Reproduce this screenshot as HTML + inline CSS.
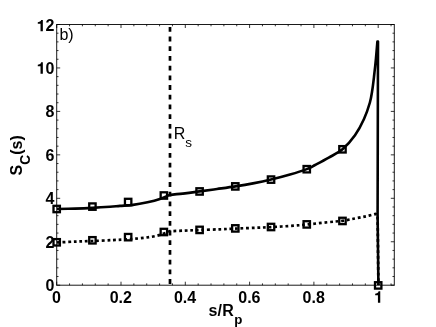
<!DOCTYPE html><html><head><meta charset="utf-8"><style>html,body{margin:0;padding:0;background:#fff;}svg{display:block;font-family:"Liberation Sans",sans-serif;will-change:transform;}</style></head><body>
<svg width="436" height="327" viewBox="0 0 436 327">
<rect width="436" height="327" fill="#fff"/>
<rect x="56.7" y="24.5" width="337.6" height="260.7" fill="none" stroke="#1a1a1a" stroke-width="1"/>
<path d="M56.70 285.2v-3.5M56.70 24.5v3.5M69.56 285.2v-1.8M69.56 24.5v1.8M82.42 285.2v-1.8M82.42 24.5v1.8M95.28 285.2v-1.8M95.28 24.5v1.8M108.14 285.2v-1.8M108.14 24.5v1.8M121.00 285.2v-3.5M121.00 24.5v3.5M133.86 285.2v-1.8M133.86 24.5v1.8M146.72 285.2v-1.8M146.72 24.5v1.8M159.58 285.2v-1.8M159.58 24.5v1.8M172.44 285.2v-1.8M172.44 24.5v1.8M185.30 285.2v-3.5M185.30 24.5v3.5M198.16 285.2v-1.8M198.16 24.5v1.8M211.02 285.2v-1.8M211.02 24.5v1.8M223.88 285.2v-1.8M223.88 24.5v1.8M236.74 285.2v-1.8M236.74 24.5v1.8M249.60 285.2v-3.5M249.60 24.5v3.5M262.46 285.2v-1.8M262.46 24.5v1.8M275.32 285.2v-1.8M275.32 24.5v1.8M288.18 285.2v-1.8M288.18 24.5v1.8M301.04 285.2v-1.8M301.04 24.5v1.8M313.90 285.2v-3.5M313.90 24.5v3.5M326.76 285.2v-1.8M326.76 24.5v1.8M339.62 285.2v-1.8M339.62 24.5v1.8M352.48 285.2v-1.8M352.48 24.5v1.8M365.34 285.2v-1.8M365.34 24.5v1.8M378.20 285.2v-3.5M378.20 24.5v3.5M391.06 285.2v-1.8M391.06 24.5v1.8M56.7 285.20h3.5M394.3 285.20h-3.5M56.7 276.51h1.8M394.3 276.51h-1.8M56.7 267.82h1.8M394.3 267.82h-1.8M56.7 259.13h1.8M394.3 259.13h-1.8M56.7 250.44h1.8M394.3 250.44h-1.8M56.7 241.75h3.5M394.3 241.75h-3.5M56.7 233.06h1.8M394.3 233.06h-1.8M56.7 224.37h1.8M394.3 224.37h-1.8M56.7 215.68h1.8M394.3 215.68h-1.8M56.7 206.99h1.8M394.3 206.99h-1.8M56.7 198.30h3.5M394.3 198.30h-3.5M56.7 189.61h1.8M394.3 189.61h-1.8M56.7 180.92h1.8M394.3 180.92h-1.8M56.7 172.23h1.8M394.3 172.23h-1.8M56.7 163.54h1.8M394.3 163.54h-1.8M56.7 154.85h3.5M394.3 154.85h-3.5M56.7 146.16h1.8M394.3 146.16h-1.8M56.7 137.47h1.8M394.3 137.47h-1.8M56.7 128.78h1.8M394.3 128.78h-1.8M56.7 120.09h1.8M394.3 120.09h-1.8M56.7 111.40h3.5M394.3 111.40h-3.5M56.7 102.71h1.8M394.3 102.71h-1.8M56.7 94.02h1.8M394.3 94.02h-1.8M56.7 85.33h1.8M394.3 85.33h-1.8M56.7 76.64h1.8M394.3 76.64h-1.8M56.7 67.95h3.5M394.3 67.95h-3.5M56.7 59.26h1.8M394.3 59.26h-1.8M56.7 50.57h1.8M394.3 50.57h-1.8M56.7 41.88h1.8M394.3 41.88h-1.8M56.7 33.19h1.8M394.3 33.19h-1.8M56.7 24.50h3.5M394.3 24.50h-3.5" stroke="#000" stroke-width="0.8" fill="none"/>
<text x="54.3" y="291.00" font-size="16" font-weight="bold" text-anchor="end">0</text>
<text x="54.3" y="247.55" font-size="16" font-weight="bold" text-anchor="end">2</text>
<text x="54.3" y="204.10" font-size="16" font-weight="bold" text-anchor="end">4</text>
<text x="54.3" y="160.65" font-size="16" font-weight="bold" text-anchor="end">6</text>
<text x="54.3" y="117.20" font-size="16" font-weight="bold" text-anchor="end">8</text>
<text x="54.3" y="73.75" font-size="16" font-weight="bold" text-anchor="end">0</text>
<path d="M42.85 73.75L40.53 73.75L40.53 66.26L37.78 66.26L37.78 64.69Q39.78 64.63 40.69 63.51Q41.06 63.00 41.17 62.36L42.85 62.36Z" fill="#000"/>
<text x="54.3" y="31.30" font-size="16" font-weight="bold" text-anchor="end">2</text>
<path d="M42.85 31.30L40.53 31.30L40.53 23.81L37.78 23.81L37.78 22.24Q39.78 22.18 40.69 21.06Q41.06 20.55 41.17 19.91L42.85 19.91Z" fill="#000"/>
<text x="56.50" y="302.7" font-size="16" font-weight="bold" text-anchor="middle">0</text>
<text x="120.80" y="302.7" font-size="16" font-weight="bold" text-anchor="middle">0.2</text>
<text x="185.10" y="302.7" font-size="16" font-weight="bold" text-anchor="middle">0.4</text>
<text x="249.40" y="302.7" font-size="16" font-weight="bold" text-anchor="middle">0.6</text>
<text x="313.70" y="302.7" font-size="16" font-weight="bold" text-anchor="middle">0.8</text>
<path d="M380.25 302.70L377.93 302.70L377.93 295.21L375.18 295.21L375.18 293.64Q377.18 293.58 378.09 292.46Q378.46 291.95 378.57 291.31L380.25 291.31Z" fill="#000"/>
<text x="208.4" y="315.6" font-size="16" font-weight="bold" letter-spacing="0.3">s/R<tspan font-size="13.3" dy="8.1">p</tspan></text>
<text transform="translate(21.8,175.4) rotate(-90)" font-size="16" font-weight="bold">S<tspan font-size="13.8" dy="8.5">C</tspan><tspan dy="-8.5">(s)</tspan></text>
<text x="59.4" y="39.5" font-size="16">b)</text>
<text x="173.7" y="139" font-size="16">R<tspan font-size="13.5" dy="8.2">s</tspan></text>
<path d="M170 26.9V285.2" stroke="#000" stroke-width="2.7" stroke-dasharray="4.8 4.9" fill="none"/>
<path d="M57.00 242.50C60.00 242.35 69.10 241.85 75.00 241.60C80.90 241.35 86.10 241.25 92.40 241.00C98.70 240.75 106.87 240.38 112.80 240.10C118.73 239.82 124.20 239.53 128.00 239.30C131.80 239.07 132.50 239.00 135.60 238.70C138.70 238.40 142.82 238.05 146.60 237.50C150.38 236.95 154.43 236.45 158.30 235.40C162.17 234.35 167.88 231.90 169.80 231.20L169.80 231.20C172.33 231.10 180.03 230.80 185.00 230.60C189.97 230.40 193.77 230.22 199.60 230.00C205.43 229.78 214.05 229.53 220.00 229.30C225.95 229.07 229.97 228.83 235.30 228.60C240.63 228.37 246.05 228.15 252.00 227.90C257.95 227.65 263.83 227.48 271.00 227.10C278.17 226.72 289.03 226.03 295.00 225.60C300.97 225.17 301.30 225.07 306.80 224.50C312.30 223.93 322.05 222.82 328.00 222.20C333.95 221.58 338.03 221.42 342.50 220.80C346.97 220.18 350.88 219.25 354.80 218.50C358.72 217.75 362.53 217.05 366.00 216.30C369.47 215.55 374.00 214.38 375.60 214.00L377.6 214.8L378.4 285" stroke="#000" stroke-width="2.7" fill="none" stroke-dasharray="2.8 2.8"/>
<path d="M57.00 209.00C60.00 208.93 69.12 208.78 75.00 208.60C80.88 208.42 86.42 208.20 92.25 207.90C98.08 207.60 105.38 207.13 110.00 206.80C114.62 206.47 116.17 206.22 120.00 205.90C123.83 205.58 128.42 205.52 133.00 204.90C137.58 204.28 143.02 203.20 147.50 202.20C151.98 201.20 156.18 200.12 159.90 198.90C163.62 197.68 168.15 195.57 169.80 194.90L169.80 194.90C172.33 194.65 180.03 193.98 185.00 193.40C189.97 192.82 194.27 192.13 199.60 191.40C204.93 190.67 211.05 189.83 217.00 189.00C222.95 188.17 229.30 187.33 235.30 186.40C241.30 185.47 247.05 184.53 253.00 183.40C258.95 182.27 264.83 181.07 271.00 179.60C277.17 178.13 284.03 176.35 290.00 174.60C295.97 172.85 302.63 170.70 306.80 169.10C310.97 167.50 311.34 166.92 315.00 165.00C318.66 163.08 324.17 160.22 328.75 157.60C333.33 154.98 338.12 153.02 342.50 149.30C346.88 145.58 351.42 140.35 355.00 135.30C358.58 130.25 361.52 124.47 364.00 119.00C366.48 113.53 368.52 107.33 369.90 102.50C371.28 97.67 371.58 94.58 372.30 90.00C373.02 85.42 373.58 80.33 374.20 75.00C374.82 69.67 375.47 63.58 376.00 58.00C376.53 52.42 377.17 44.25 377.40 41.50L378.0 41.5 L377.6 214.8L378.4 285" stroke="#000" stroke-width="2.6" fill="none" stroke-linejoin="round"/>
<rect x="53.5" y="205.8" width="6.4" height="6.4" fill="none" stroke="#000" stroke-width="2.3"/>
<rect x="89.22222222222221" y="203.4" width="6.4" height="6.4" fill="none" stroke="#000" stroke-width="2.3"/>
<rect x="124.94444444444444" y="198.8" width="6.4" height="6.4" fill="none" stroke="#000" stroke-width="2.3"/>
<rect x="160.66666666666669" y="192.3" width="6.4" height="6.4" fill="none" stroke="#000" stroke-width="2.3"/>
<rect x="196.3888888888889" y="188.25" width="6.4" height="6.4" fill="none" stroke="#000" stroke-width="2.3"/>
<rect x="232.11111111111114" y="183.20000000000002" width="6.4" height="6.4" fill="none" stroke="#000" stroke-width="2.3"/>
<rect x="267.8333333333333" y="176.4" width="6.4" height="6.4" fill="none" stroke="#000" stroke-width="2.3"/>
<rect x="303.5555555555556" y="166.0" width="6.4" height="6.4" fill="none" stroke="#000" stroke-width="2.3"/>
<rect x="339.27777777777777" y="146.10000000000002" width="6.4" height="6.4" fill="none" stroke="#000" stroke-width="2.3"/>
<rect x="53.5" y="239.10000000000002" width="6.4" height="6.4" fill="none" stroke="#000" stroke-width="2.3"/>
<rect x="89.22222222222221" y="237.10000000000002" width="6.4" height="6.4" fill="none" stroke="#000" stroke-width="2.3"/>
<rect x="124.94444444444444" y="233.95000000000002" width="6.4" height="6.4" fill="none" stroke="#000" stroke-width="2.3"/>
<rect x="160.66666666666669" y="228.8" width="6.4" height="6.4" fill="none" stroke="#000" stroke-width="2.3"/>
<rect x="196.3888888888889" y="226.70000000000002" width="6.4" height="6.4" fill="none" stroke="#000" stroke-width="2.3"/>
<rect x="232.11111111111114" y="225.20000000000002" width="6.4" height="6.4" fill="none" stroke="#000" stroke-width="2.3"/>
<rect x="267.8333333333333" y="223.8" width="6.4" height="6.4" fill="none" stroke="#000" stroke-width="2.3"/>
<rect x="303.5555555555556" y="221.20000000000002" width="6.4" height="6.4" fill="none" stroke="#000" stroke-width="2.3"/>
<rect x="339.27777777777777" y="217.75" width="6.4" height="6.4" fill="none" stroke="#000" stroke-width="2.3"/>
<rect x="375.0" y="282.2" width="6.4" height="6.4" fill="none" stroke="#000" stroke-width="2.3"/>
</svg></body></html>
